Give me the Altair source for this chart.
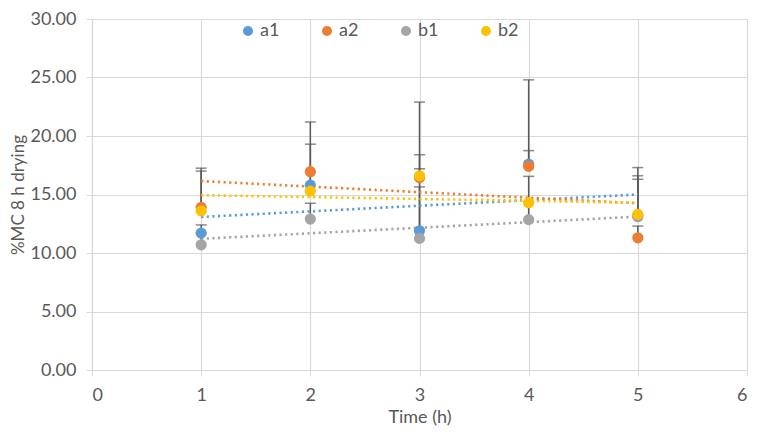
import altair as alt
import pandas as pd

times = [1, 2, 3, 4, 5]
series_names = ["a1", "a2", "b1", "b2"]
a1 = [11.7, 15.8, 11.9, 17.6, 13.2]
a2 = [13.9, 16.95, 16.45, 17.4, 11.3]
b1 = [10.7, 12.9, 11.25, 12.85, 13.1]
b2 = [13.6, 15.3, 16.6, 14.3, 13.3]
a1_err = [0.7, 3.5, 6.5, 7.2, 4.1]
a2_err = [3.35, 4.25, 6.45, 1.35, 1.0]
b1_err = [1.0, 1.35, 4.4, 1.5, 3.5]
b2_err = [3.4, 1.6, 0.6, 2.25, 3.0]
colors = ["#5B9BD5", "#ED7D31", "#A5A5A5", "#FFC000"]
y_ticks = [0, 5, 10, 15, 20, 25, 30]
x_ticks = [0, 1, 2, 3, 4, 5, 6]

vals = {"a1": a1, "a2": a2, "b1": b1, "b2": b2}
errs = {"a1": a1_err, "a2": a2_err, "b1": b1_err, "b2": b2_err}
rows = []
for s in series_names:
    for t, v, e in zip(times, vals[s], errs[s]):
        rows.append({"series": s, "time": t, "value": v, "upper": v + e})
df = pd.DataFrame(rows)

FONT = "Lato"
GREY = "#595959"

xscale = alt.Scale(domain=[0, 6], nice=False)
yscale = alt.Scale(domain=[0, 30], nice=False)
cscale = alt.Scale(domain=series_names, range=colors)

base = alt.Chart(df)

xenc = alt.X("time:Q", scale=xscale, title="Time (h)",
             axis=alt.Axis(values=x_ticks, format="d"))
yenc = alt.Y("value:Q", scale=yscale, title="%MC 8 h drying",
             axis=alt.Axis(values=y_ticks, format=".2f"))

err_rule = base.mark_rule(color=GREY, strokeWidth=1.5).encode(
    x=xenc, y=yenc, y2="upper:Q")

caps = base.mark_tick(orient="horizontal", color=GREY, size=11, thickness=1.5).encode(
    x="time:Q", y="upper:Q")

trends = []
for s, col in zip(series_names, colors):
    trends.append(
        base.transform_filter(alt.datum.series == s)
        .transform_regression("time", "value", extent=[1, 5])
        .mark_line(strokeDash=[2.2, 3.4], strokeWidth=2.6, color=col)
        .encode(x="time:Q", y="value:Q")
    )

points = base.mark_circle(size=125, opacity=1).encode(
    x="time:Q", y="value:Q",
    color=alt.Color("series:N", scale=cscale, title=None,
                    legend=alt.Legend(orient="none", direction="horizontal",
                                      legendX=147, legendY=3,
                                      symbolType="circle", symbolSize=100,
                                      columnPadding=38, labelFontSize=18,
                                      labelFont=FONT, labelColor=GREY,
                                      symbolStrokeWidth=0, labelOffset=3)))

chart = alt.layer(err_rule, caps, *trends, points).properties(
    width=655, height=351,
    padding={"left": 84, "top": 11, "right": 2, "bottom": 58},
    autosize=alt.AutoSizeParams(type="none"),
).configure_view(stroke=None).configure_axis(
    gridColor="#D9D9D9", gridWidth=1.2, domainColor="#D9D9D9", domainWidth=1.2,
    tickColor="#D9D9D9", tickSize=6, labelFont=FONT, labelFontSize=18,
    labelColor=GREY, titleFont=FONT, titleColor=GREY,
    titleFontWeight="normal",
).configure_axisX(labelPadding=10, titlePadding=4, titleFontSize=18).configure_axisY(
    labelPadding=10, titlePadding=2, titleFontSize=17)

chart.save("out.html", embed_options={"renderer": "svg", "actions": False})
